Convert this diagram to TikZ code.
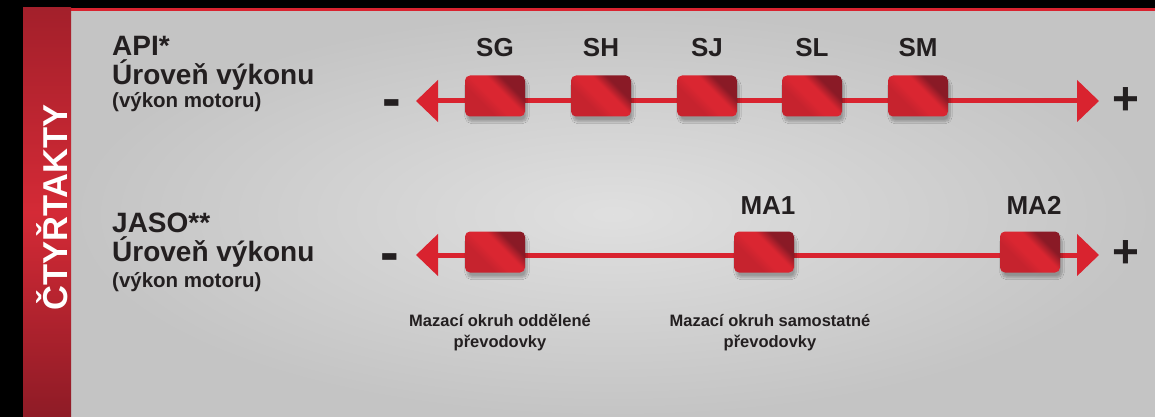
\documentclass[tikz,border=0pt]{standalone}
\usepackage{fontspec}
\setmainfont{Liberation Sans}
\usetikzlibrary{arrows.meta,positioning,shadows.blur}
\definecolor{inkdark}{HTML}{231F20}
\definecolor{linered}{HTML}{D9232F}
\definecolor{boxred}{HTML}{DA2631}
\definecolor{boxdark}{HTML}{8A1A26}
\definecolor{stripred}{HTML}{D42A36}
\definecolor{stripdark}{HTML}{8E1B26}
\definecolor{bgmid}{HTML}{DADADA}
\definecolor{bgedge}{HTML}{C4C4C4}
\pgfdeclarehorizontalshading{valveshade}{100bp}{%
  color(0bp)=(boxred!75!boxdark); color(36bp)=(boxred!75!boxdark);
  color(46bp)=(boxred); color(58bp)=(boxred);
  color(68bp)=(boxdark); color(100bp)=(boxdark)}
\tikzset{
  valve/.style={rectangle,rounded corners=5pt,minimum width=60pt,minimum height=41pt,
    inner sep=0pt,shading=valveshade,shading angle=45,
    blur shadow={shadow xshift=2pt,shadow yshift=-5pt,shadow opacity=28,shadow blur steps=10}},
  tag/.style={font=\fontsize{26}{26}\selectfont\bfseries,text=inkdark,inner sep=0pt},
  head/.style={font=\fontsize{28}{28}\selectfont\bfseries,text=inkdark,inner sep=0pt,anchor=base west},
  sub/.style={font=\fontsize{20.5}{20.5}\selectfont\bfseries,text=inkdark,inner sep=0pt,anchor=base west},
  note/.style={font=\fontsize{16.5}{21}\selectfont\bfseries,text=inkdark,align=center,inner sep=0pt},
  minus/.style={font=\fontsize{56}{56}\selectfont\bfseries,text=inkdark,inner sep=0pt},
  plus/.style={font=\fontsize{46}{46}\selectfont\bfseries,text=inkdark,inner sep=0pt},
  scale line/.style={draw=linered,line width=5pt,
    {Triangle[length=22pt,width=41pt]}-{Triangle[length=22pt,width=41pt]}}
}
\begin{document}
\begin{tikzpicture}[x=1pt,y=-1pt]
  \useasboundingbox (0,0) rectangle (1155,417);
  % background
  \shade[inner color=bgmid!85!white,outer color=bgedge] (71,11) rectangle (1155,417);
  \fill[black] (0,0) rectangle (1155,8);
  \fill[black] (0,0) rectangle (23,417);
  \fill[linered] (23,8) rectangle (1155,11);
  \shade[top color=stripdark!70!stripred,bottom color=stripdark,middle color=stripred]
    (23,8) rectangle (71,417);
  \node[rotate=90,text=white,font=\fontsize{34.5}{34.5}\selectfont\bfseries,inner sep=0pt,anchor=base]
    (strip) at (67,207.5) {ČTYŘTAKTY};

  % API row
  \node[head] (api) at (112,56) {API*};
  \node[head] (apiU) at (112,85) {Úroveň výkonu};
  \node[sub] (apiV) at (112,108) {(výkon motoru)};
  \coordinate (apiL) at (416,101);
  \coordinate (apiR) at (1099,101);
  \draw[scale line] (apiL) -- (apiR);
  \node[minus] (apiM) at (391.5,109) {-};
  \node[plus] (apiP) at (1126,101.5) {+};
  \foreach \x/\n in {495/SG,601/SH,707/SJ,812/SL,918/SM}{%
    \node[valve] (\n) at (\x,96) {};
    \node[tag,anchor=base] (\n-t) at (\x,57) {\n};
  }

  % JASO row
  \node[head] (jaso) at (112,232) {JASO**};
  \node[head] (jasoU) at (112,261) {Úroveň výkonu};
  \node[sub] (jasoV) at (112,287) {(výkon motoru)};
  \coordinate (jasoL) at (416,255);
  \coordinate (jasoR) at (1099,255);
  \draw[scale line] (jasoL) -- (jasoR);
  \node[minus] (jasoM) at (390,263) {-};
  \node[plus] (jasoP) at (1126,254) {+};
  \foreach \x/\n/\t in {495/ma0/,764/ma1/MA1,1030/ma2/MA2}{%
    \node[valve] (\n) at (\x,252) {};
    \node[tag,anchor=base] (\n-t) at (\x+4,214) {\t};
  }
  \node[note] (sep) at (500,333) {Mazací okruh oddělené\\převodovky};
  \node[note] (own) at (770,333) {Mazací okruh samostatné\\převodovky};
\end{tikzpicture}
\end{document}
